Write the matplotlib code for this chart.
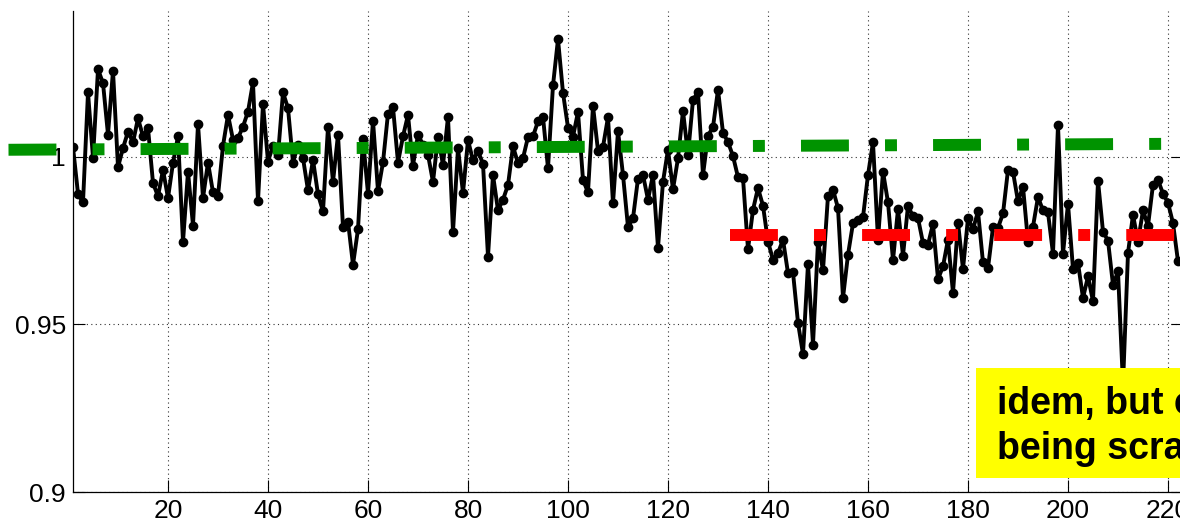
import matplotlib
matplotlib.use("Agg")
import matplotlib.pyplot as plt
from matplotlib.patches import Rectangle

plt.rcParams['font.family'] = ['Liberation Sans', 'DejaVu Sans']
plt.rcParams['lines.scale_dashes'] = False

# measured ratio, one sample per index
ratio = [
    1.0029, 0.9890, 0.9864, 1.0192, 0.9997, 1.0261, 1.0220, 1.0066, 1.0257, 0.9969,
    1.0026, 1.0075, 1.0043, 1.0115, 1.0061, 1.0086, 0.9922, 0.9882, 0.9961, 0.9877,
    0.9982, 1.0061, 0.9746, 0.9956, 0.9795, 1.0098, 0.9877, 0.9983, 0.9894, 0.9884,
    1.0033, 1.0125, 1.0051, 1.0056, 1.0090, 1.0135, 1.0222, 0.9867, 1.0158, 0.9986,
    1.0033, 1.0004, 1.0192, 1.0145, 0.9983, 1.0036, 0.9996, 0.9900, 0.9991, 0.9888,
    0.9837, 1.0089, 0.9925, 1.0066, 0.9790, 0.9807, 0.9678, 0.9784, 1.0054, 0.9890,
    1.0108, 0.9897, 0.9984, 1.0129, 1.0148, 0.9983, 1.0061, 1.0125, 0.9974, 1.0066,
    1.0036, 1.0006, 0.9925, 1.0059, 0.9976, 1.0119, 0.9776, 1.0026, 0.9892, 1.0050,
    0.9989, 1.0017, 0.9979, 0.9702, 0.9946, 0.9840, 0.9872, 0.9916, 1.0031, 0.9981,
    0.9996, 1.0059, 1.0061, 1.0106, 1.0119, 0.9966, 1.0213, 1.0351, 1.0191, 1.0087,
    1.0060, 1.0134, 0.9931, 0.9894, 1.0152, 1.0018, 1.0030, 1.0118, 0.9861, 1.0077,
    0.9946, 0.9790, 0.9817, 0.9935, 0.9946, 0.9872, 0.9946, 0.9728, 0.9926, 1.0021,
    0.9903, 0.9996, 1.0137, 1.0006, 1.0170, 1.0193, 0.9946, 1.0063, 1.0089, 1.0200,
    1.0072, 1.0044, 1.0002, 0.9939, 0.9936, 0.9724, 0.9842, 0.9907, 0.9854, 0.9747,
    0.9693, 0.9713, 0.9753, 0.9653, 0.9655, 0.9505, 0.9411, 0.9681, 0.9440, 0.9747,
    0.9661, 0.9884, 0.9902, 0.9847, 0.9579, 0.9708, 0.9802, 0.9810, 0.9820, 0.9946,
    1.0043, 0.9753, 0.9956, 0.9864, 0.9691, 0.9844, 0.9705, 0.9854, 0.9822, 0.9817,
    0.9743, 0.9738, 0.9800, 0.9635, 0.9673, 0.9753, 0.9594, 0.9804, 0.9665, 0.9817,
    0.9784, 0.9837, 0.9685, 0.9668, 0.9790, 0.9788, 0.9831, 0.9961, 0.9955, 0.9867,
    0.9911, 0.9747, 0.9792, 0.9880, 0.9840, 0.9834, 0.9711, 1.0095, 0.9711, 0.9860,
    0.9665, 0.9683, 0.9579, 0.9643, 0.9569, 0.9929, 0.9777, 0.9750, 0.9618, 0.9658,
    0.9320, 0.9713, 0.9827, 0.9747, 0.9840, 0.9794, 0.9917, 0.9931, 0.9890, 0.9863,
    0.9802, 0.9688,
]
idx = list(range(1, len(ratio) + 1))

# reference levels (dash-dot)
green_x = [-11.9, 224.0]
green_y = [1.0021, 1.0039]
red_x = [132.3, 224.0]
red_y = [0.9766, 0.9766]

xticks = [20, 40, 60, 80, 100, 120, 140, 160, 180, 200, 220]
yticks = [0.9, 0.95, 1.0]
ytick_labels = ['0.9', '0.95', '1']

W, H = 1180, 526
fig = plt.figure(figsize=(W / 100, H / 100), dpi=100)
ax = fig.add_axes([73 / W, (H - 492) / H, (1183 - 73) / W, (492 - 11) / H])

ax.plot(idx, ratio, color='black', lw=2.8, marker='o', ms=6, zorder=3)

dash = (0, (34.5, 26, 8.6, 26))
ax.plot(green_x, green_y, color='#009300', lw=8.6, linestyle=dash,
        solid_capstyle='butt', dash_capstyle='butt', clip_on=False, zorder=4)
ax.plot(red_x, red_y, color='#ff0000', lw=8.6, linestyle=dash,
        solid_capstyle='butt', dash_capstyle='butt', clip_on=False, zorder=4)

ax.set_xlim(1, 223.0)
ax.set_ylim(0.9, 1.0435)
ax.set_xticks(xticks)
ax.set_yticks(yticks)
ax.set_yticklabels(ytick_labels)
ax.tick_params(direction='in', length=8.5, width=0.8, labelsize=19, pad=5,
               top=False, right=True)
ax.grid(True, color='#333333', linestyle=(0, (0.8, 2.4)), linewidth=0.8)
ax.spines['top'].set_visible(False)
for s in ax.spines.values():
    s.set_linewidth(0.9)

# yellow note box on top of the plot
ax.add_patch(Rectangle((976 / W, 1 - 478 / H), (W - 976) / W + 0.05,
                       (478 - 368) / H, transform=fig.transFigure,
                       facecolor='#ffff00', edgecolor='none', clip_on=False,
                       zorder=10))
ax.text(997 / W, 1 - 414 / H, 'idem, but coating', transform=fig.transFigure,
        fontsize=27, fontweight='bold', color='black', ha='left',
        va='baseline', clip_on=False, zorder=11)
ax.text(997 / W, 1 - 459 / H, 'being scratched', transform=fig.transFigure,
        fontsize=27, fontweight='bold', color='black', ha='left',
        va='baseline', clip_on=False, zorder=11)

fig.savefig('out.png', dpi=100)
